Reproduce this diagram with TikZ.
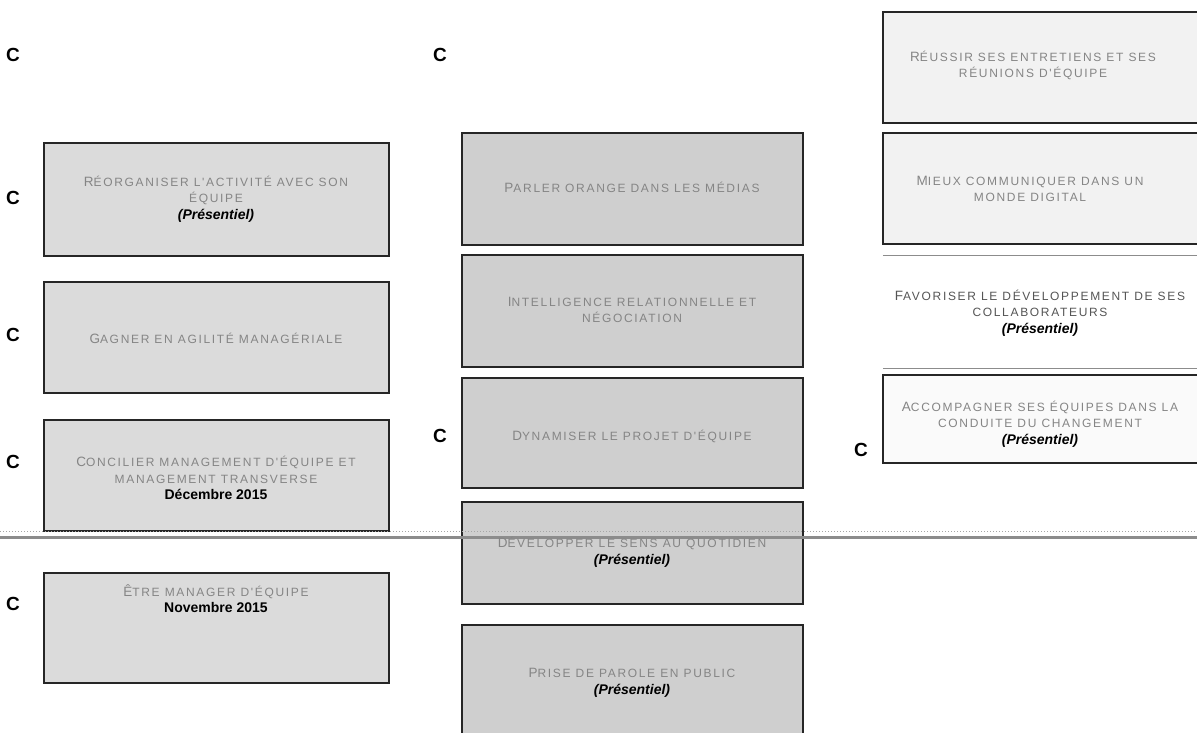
\documentclass[tikz,border=0pt]{standalone}
\usepackage{fontspec}
\setmainfont{Liberation Sans}
\newfontfamily\capfont[LetterSpace=14]{Liberation Sans}
\definecolor{capgray}{HTML}{858585}
\definecolor{capdark}{HTML}{555555}
\newcommand\FL[1]{{\fontsize{13.5}{16.5}\selectfont #1}}
\newcommand\pres{{\rmfamily\bfseries\itshape\color{black}\fontsize{14}{16.5}\selectfont (Présentiel)}}
\newcommand\dte[1]{{\rmfamily\bfseries\color{black}\fontsize{14}{16.5}\selectfont #1}}
\tikzset{
  boxbase/.style={draw=black!85, line width=1.2pt, inner sep=0pt},
  lbox/.style={boxbase, fill=black!14, minimum width=345pt},
  mbox/.style={boxbase, fill=black!19, minimum width=341pt},
  rbox/.style={boxbase, fill=black!5, minimum width=327pt},
  captext/.style={text=capgray, font=\capfont\fontsize{12}{16.5}\selectfont, align=center, inner sep=0pt},
  clabel/.style={font=\bfseries\fontsize{19}{19}\selectfont, text=black, inner sep=0pt}
}
\begin{document}
\begin{tikzpicture}[x=1pt,y=-1pt]
\useasboundingbox (0,0) rectangle (1197,732);
\clip (0,0) rectangle (1197,732);
\fill[white] (0,0) rectangle (1197,732);
% left column
\node[lbox, minimum height=113pt] (l1) at (216.5,199.5) {};
\node[lbox, minimum height=111pt] (l2) at (216.5,337.5) {};
\node[lbox, minimum height=111pt] (l3) at (216.5,475.5) {};
\node[lbox, minimum height=110pt] (l4) at (216.5,628) {};
% middle column
\node[mbox, minimum height=112pt] (m1) at (632.5,189) {};
\node[mbox, minimum height=112pt] (m2) at (632.5,311) {};
\node[mbox, minimum height=110pt] (m3) at (632.5,433) {};
\node[mbox, minimum height=102pt] (m4) at (632.5,553) {};
\node[mbox, minimum height=120pt] (m5) at (632.5,685) {};
% right column
\node[rbox, minimum height=111pt] (r1) at (1046.5,67.5) {};
\node[rbox, minimum height=111pt] (r2) at (1046.5,188.5) {};
\node[inner sep=0pt, minimum width=327pt, minimum height=113pt] (r3) at (1046.5,311.5) {};
\draw[black!45, line width=0.6pt] (r3.north west) -- (r3.north east);
\draw[black!45, line width=0.6pt] (r3.south west) -- (r3.south east);
\node[rbox, fill=black!2, minimum height=88pt] (r4) at (1046.5,419) {};
% scan line
\draw[black!35, line width=0.6pt, dash pattern=on 1pt off 2pt] (0,531) -- (1197,531);
\draw[black!45, line width=3pt] (0,537) -- (1197,537);
% texts
\node[captext] (tl1) at (216,199) {\FL{R}ÉORGANISER L'ACTIVITÉ AVEC SON\\ÉQUIPE\\\pres};
\node[captext] (tl2) at (216,338) {\FL{G}AGNER EN AGILITÉ MANAGÉRIALE};
\node[captext] (tl3) at (216,478) {\FL{C}ONCILIER MANAGEMENT D'ÉQUIPE ET\\MANAGEMENT TRANSVERSE\\\dte{Décembre 2015}};
\node[captext] (tl4) at (216,598.5) {\FL{Ê}TRE MANAGER D'ÉQUIPE\\\dte{Novembre 2015}};
\node[captext] (tm1) at (632,187) {\FL{P}ARLER ORANGE DANS LES MÉDIAS};
\node[captext] (tm2) at (632,310) {\FL{I}NTELLIGENCE RELATIONNELLE ET\\NÉGOCIATION};
\node[captext] (tm3) at (632,436) {\FL{D}YNAMISER LE PROJET D'ÉQUIPE};
\node[captext] (tm4) at (632,552) {\FL{D}ÉVELOPPER LE SENS AU QUOTIDIEN\\\pres};
\node[captext] (tm5) at (632,683) {\FL{P}RISE DE PAROLE EN PUBLIC\\\pres};
\node[captext] (tr1) at (1033,65.5) {\FL{R}ÉUSSIR SES ENTRETIENS ET SES\\RÉUNIONS D'ÉQUIPE};
\node[captext] (tr2) at (1030,189) {\FL{M}IEUX COMMUNIQUER DANS UN\\MONDE DIGITAL};
\node[captext, text=capdark] (tr3) at (1040,313) {\FL{F}AVORISER LE DÉVELOPPEMENT DE SES\\COLLABORATEURS\\\pres};
\node[captext] (tr4) at (1040,424) {\FL{A}CCOMPAGNER SES ÉQUIPES DANS LA\\CONDUITE DU CHANGEMENT\\\pres};
% C labels
\node[clabel] (c1) at (13,55) {C};
\node[clabel] (c2) at (440,55) {C};
\node[clabel] (c3) at (13,198) {C};
\node[clabel] (c4) at (13,335) {C};
\node[clabel] (c5) at (13,462) {C};
\node[clabel] (c6) at (13,604) {C};
\node[clabel] (c7) at (440,436) {C};
\node[clabel] (c8) at (861,450) {C};
\end{tikzpicture}
\end{document}
